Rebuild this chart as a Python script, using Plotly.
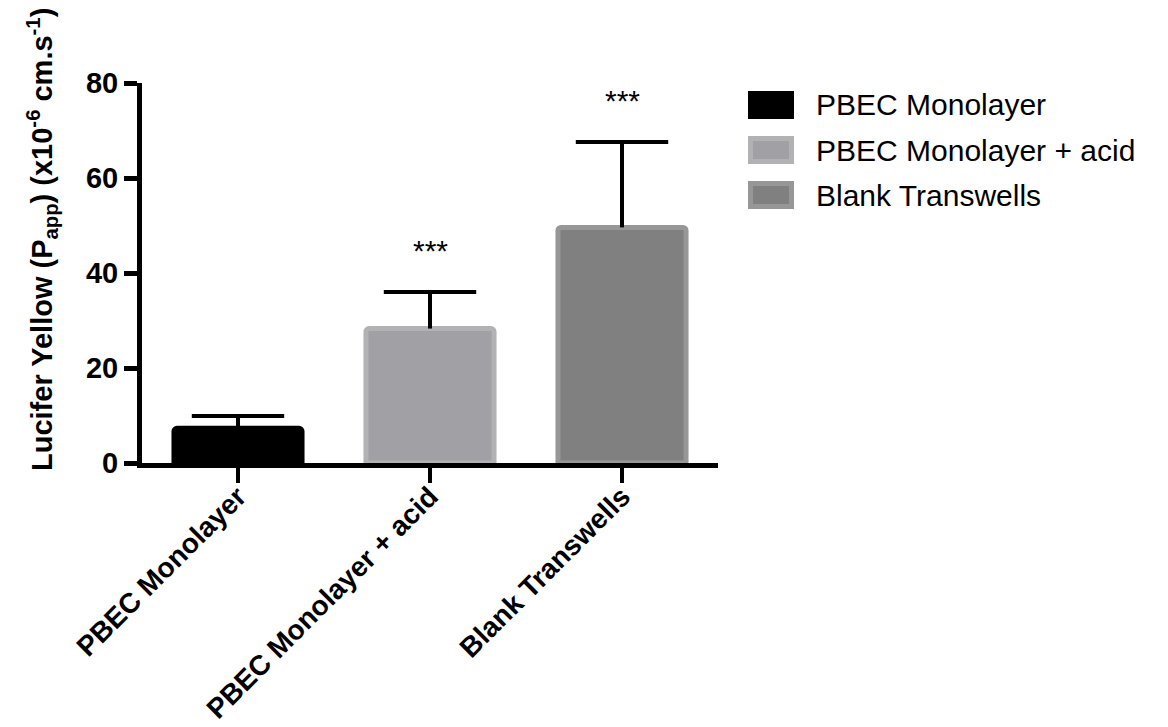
import plotly.graph_objects as go

categories = ["PBEC Monolayer", "PBEC Monolayer + acid", "Blank Transwells"]
means = [7.3, 28.3, 49.6]
errors = [2.6, 7.7, 18.0]
significance = ["", "***", "***"]
fill_colors = ["#000000", "#a1a1a5", "#808080"]
edge_colors = ["#000000", "#b2b2b4", "#979797"]
y_ticks = [0, 20, 40, 60, 80]

FONT = "Liberation Sans, Arial, sans-serif"

W, H = 1168, 727
L, R, T, B = 142, 450, 83, 264
pw, ph = W - L - R, H - T - B


def px_x(x):
    return (x - L) / pw


def px_y(y):
    return 1 - (y - T) / ph


fig = go.Figure()

fig.add_trace(go.Bar(
    x=categories, y=means,
    marker=dict(color=fill_colors, line=dict(color=edge_colors, width=5), cornerradius=3),
    error_y=dict(type="data", symmetric=False, array=errors, arrayminus=[0] * len(errors),
                 width=0, thickness=4, color="black"),
    showlegend=False,
))

# error bar caps
fig.add_trace(go.Scatter(
    x=categories, y=[m + e for m, e in zip(means, errors)],
    mode="markers",
    marker=dict(symbol="line-ew", size=66, line=dict(width=4, color="black")),
    showlegend=False, hoverinfo="skip",
))

annotations = []
for c, m, e, s in zip(categories, means, errors, significance):
    if s:
        annotations.append(dict(x=c, y=m + e, xref="x", yref="y", text=s, showarrow=False,
                                yanchor="bottom", yshift=23,
                                font=dict(family=FONT, size=30, color="black")))

annotations.append(dict(
    x=px_x(42), y=px_y(240), xref="paper", yref="paper",
    text="Lucifer Yellow (P<sub>app</sub>) (x10<sup>-6</sup> cm.s<sup>-1</sup>)",
    textangle=-90, showarrow=False, xanchor="center", yanchor="middle",
    font=dict(family=FONT, size=29, color="black", weight="bold"),
))

# legend (manual, large swatches)
shapes = []
row_y = [105, 150, 195]
for c, fc, ec, yy in zip(categories, fill_colors, edge_colors, row_y):
    shapes.append(dict(type="rect", xref="paper", yref="paper",
                       x0=px_x(750.5), x1=px_x(791.5), y0=px_y(yy + 11.5), y1=px_y(yy - 11.5),
                       fillcolor=fc, line=dict(color=ec, width=5)))
    annotations.append(dict(x=px_x(814), y=px_y(yy), xref="paper", yref="paper",
                            text=c, showarrow=False, xanchor="left", yanchor="middle",
                            font=dict(family=FONT, size=30, color="black")))

fig.update_layout(
    width=W, height=H,
    margin=dict(l=L, r=R, t=T, b=B, autoexpand=False),
    paper_bgcolor="white", plot_bgcolor="white",
    bargap=0.333,
    xaxis=dict(
        showline=True, linewidth=5, linecolor="black",
        ticks="outside", ticklen=15, tickwidth=4, tickcolor="black",
        tickangle=-45, showgrid=False, zeroline=False, ticklabelstandoff=-14,
        tickfont=dict(family=FONT, size=28, color="black", weight="bold"),
    ),
    yaxis=dict(
        range=[0, 80], tickvals=y_ticks, showline=True, linewidth=5, linecolor="black",
        ticks="outside", ticklen=13, tickwidth=5, tickcolor="black",
        showgrid=False, zeroline=False,
        tickfont=dict(family=FONT, size=29, color="black", weight="bold"),
    ),
    annotations=annotations,
    shapes=shapes,
)

fig.write_html("out.html")
